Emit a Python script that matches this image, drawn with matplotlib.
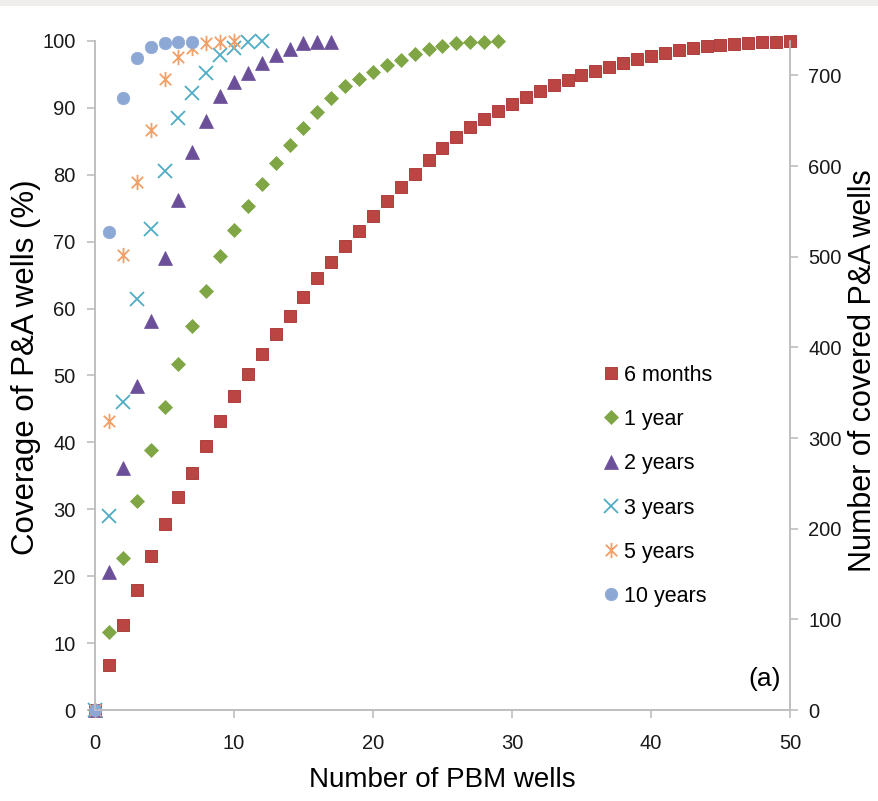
import matplotlib
matplotlib.use("Agg")
import matplotlib.pyplot as plt
from matplotlib.path import Path
import numpy as np

# ---------------- data ----------------
months6 = [0, 6.7, 12.7, 18.0, 23.0, 27.8, 31.8, 35.5, 39.5, 43.2, 47.0, 50.2, 53.2, 56.2,
           58.9, 61.7, 64.6, 67.0, 69.4, 71.6, 73.8, 76.1, 78.2, 80.1, 82.2, 84.0, 85.6,
           87.1, 88.3, 89.5, 90.6, 91.6, 92.5, 93.4, 94.2, 94.9, 95.5, 96.1, 96.7, 97.3,
           97.8, 98.2, 98.7, 99.0, 99.3, 99.4, 99.6, 99.7, 99.85, 99.9, 100.0]
year1 = [0, 11.7, 22.7, 31.2, 38.8, 45.3, 51.7, 57.4, 62.7, 67.9, 71.8, 75.3, 78.6, 81.7,
         84.5, 87.0, 89.4, 91.5, 93.2, 94.3, 95.3, 96.4, 97.2, 98.1, 98.8, 99.3, 99.7,
         99.85, 99.9, 100.0]
years2 = [0, 20.6, 36.1, 48.4, 58.2, 67.6, 76.2, 83.4, 88.0, 91.8, 93.9, 95.2, 96.7, 97.9,
          98.8, 99.7, 99.8, 99.9]
years3 = [0, 29.0, 46.0, 61.4, 71.9, 80.6, 88.5, 92.2, 95.2, 97.9, 99.0, 99.9, 100.0]
years5 = [0, 43.2, 68.0, 78.9, 86.7, 94.3, 97.6, 99.0, 99.7, 99.85, 100.0]
years10 = [0, 71.4, 91.5, 97.5, 99.1, 99.7, 99.85, 99.9]

labels = ["6 months", "1 year", "2 years", "3 years", "5 years", "10 years"]
x_ticks = [0, 10, 20, 30, 40, 50]
y_ticks = [0, 10, 20, 30, 40, 50, 60, 70, 80, 90, 100]
y2_ticks = [0, 100, 200, 300, 400, 500, 600, 700]
total_wells = 738

# ---------------- style ----------------
star = Path([(0, -1), (0, 1), (-0.75, -0.75), (0.75, 0.75), (-0.75, 0.75), (0.75, -0.75)],
            [Path.MOVETO, Path.LINETO, Path.MOVETO, Path.LINETO, Path.MOVETO, Path.LINETO])

styles = [
    dict(marker="s", ms=8, mfc="#BB4542", mec="#A5302E", mew=0.6),
    dict(marker="D", ms=7.5, mfc="#7FA544", mec="#7FA544", mew=0.5),
    dict(marker="^", ms=10, mfc="#6B4F99", mec="#6B4F99", mew=0.5),
    dict(marker="x", ms=9.5, mfc="none", mec="#4FACC4", mew=1.3),
    dict(marker=star, ms=11, mfc="none", mec="#F2A067", mew=1.3),
    dict(marker="o", ms=9, mfc="#8EA8D6", mec="#8EA8D6", mew=0.5),
]

font = ["Liberation Sans", "DejaVu Sans"]
plt.rcParams["font.family"] = font

fig = plt.figure(figsize=(8.79, 8.01), dpi=100)
fig.patch.set_facecolor("white")
# thin grey band on top
fig.patches.append(plt.Rectangle((0, 1 - 6 / 801), 1, 6 / 801, transform=fig.transFigure,
                                 facecolor="#EFEEEC", edgecolor="none"))

ax = fig.add_axes([95 / 879, 91 / 801, 695 / 879, 669 / 801])
ax2 = ax.twinx()

series = [months6, year1, years2, years3, years5, years10]
handles = []
for data, lab, st in zip(series, labels, styles):
    xs = np.arange(len(data))
    h, = ax.plot(xs, data, linestyle="none", label=lab, clip_on=False, zorder=3, **st)
    handles.append(h)

ax.set_xlim(0, 50)
ax.set_ylim(0, 100)
ax2.set_ylim(0, total_wells)
ax.set_xticks(x_ticks)
ax.set_yticks(y_ticks)
ax2.set_yticks(y2_ticks)

spine_c = "#BFBFBF"
for a in (ax, ax2):
    for s in a.spines.values():
        s.set_color(spine_c)
        s.set_linewidth(1.2)
    a.spines["top"].set_visible(False)
ax.tick_params(axis="both", direction="out", length=6, width=1.2, color=spine_c,
               labelsize=14.5, labelcolor="#1a1a1a")
ax2.tick_params(axis="y", direction="out", length=6, width=1.2, color=spine_c,
                labelsize=14.5, labelcolor="#1a1a1a")
ax.tick_params(axis="x", pad=11)
ax.tick_params(axis="y", pad=8)
ax2.tick_params(axis="y", pad=7)

ax.set_xlabel("Number of PBM wells", fontsize=20)
ax.set_ylabel("Coverage of P&A wells (%)", fontsize=22.5)
ax2.set_ylabel("Number of covered P&A wells", fontsize=22)
ax.xaxis.set_label_coords(0.5, -0.104)
ax.yaxis.set_label_coords(-0.099, 0.513)
ax2.yaxis.set_label_coords(1.105, 0.508)
for lbl in (ax.xaxis.label, ax.yaxis.label, ax2.yaxis.label):
    lbl.set_va("center")
    lbl.set_ha("center")

leg = ax.legend(handles=handles, loc="upper left", bbox_to_anchor=(592 / 879, 1 - 354 / 801),
                bbox_transform=fig.transFigure, frameon=False,
                handlelength=0.8, handletextpad=0.2, labelspacing=1.08, borderpad=0,
                prop={"family": font, "size": 15.5})
ax.text(0.963, 0.047, "(a)", transform=ax.transAxes, fontsize=19,
        ha="center", va="center")

fig.savefig("out.png", dpi=100)
